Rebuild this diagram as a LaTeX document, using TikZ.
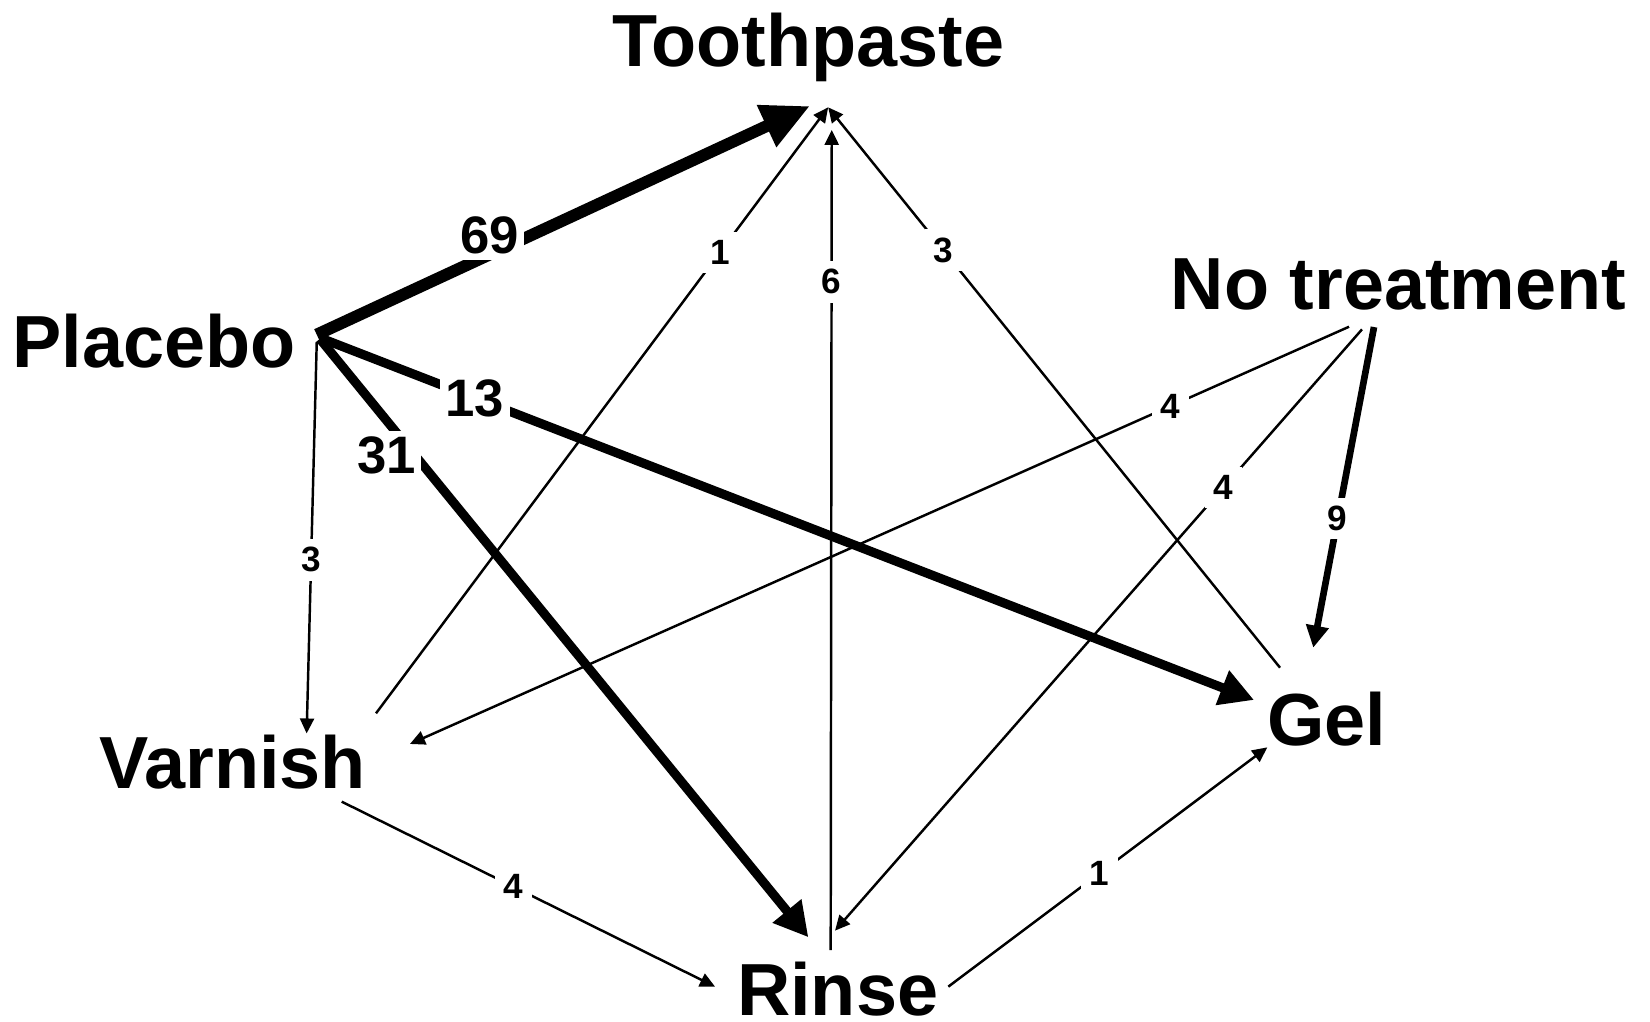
\documentclass[tikz,border=0pt]{standalone}
\usepackage{fontspec}
\setmainfont{Liberation Sans}
\usetikzlibrary{arrows.meta}

\begin{document}
\begin{tikzpicture}[
    x=0.10523mm,
    y=-0.10523mm,
    font=\bfseries,
    treat/.style={
        inner sep=0pt,
        anchor=base,
        font=\fontsize{21}{24}\selectfont\bfseries
    },
    num/.style={
        fill=white,
        inner sep=2.4pt,
        font=\fontsize{10}{12}\selectfont\bfseries
    },
    bignum/.style={
        fill=white,
        inner sep=1.5pt,
        font=\fontsize{15}{18}\selectfont\bfseries
    },
    thinarrow/.style={
        line width=0.7pt,
        -{Triangle[length=1.5mm, width=1.4mm]}
    },
    medarrow/.style={
        line width=1.9pt,
        -{Triangle[length=2.2mm, width=2.2mm]}
    },
    heavyarrow/.style={
        line width=2.6pt,
        -{Triangle[length=3.4mm, width=3.5mm]}
    },
    mainarrow/.style={
        line width=3.4pt,
        -{Triangle[length=4.8mm, width=4.3mm]}
    }
]
\useasboundingbox (0,0) rectangle (1568,971);

% Treatments
\node[treat] (tp)  at (768,63.5)   {Toothpaste};
\node[treat] (pla) at (146.5,349)  {Placebo};
\node[treat] (nt)  at (1329,294.6) {No treatment};
\node[treat] (va)  at (221,749)    {Varnish};
\node[treat] (ge)  at (1261,708)   {Gel};
\node[treat, text depth=0pt] (ri) at (796,965) {Rinse};

% Placebo comparisons
\draw[mainarrow] ([shift={(154.5,-31)}]pla.base) -- ([shift={(1.8,37.2)}]tp.base)
    node[bignum, pos=.35, yshift=1.9mm] {69};
\draw[heavyarrow] ([shift={(157.5,-28)}]pla.base) -- ([shift={(-69.3,-42.8)}]ge.base)
    node[bignum, pos=.166] {13};
\draw[heavyarrow] ([shift={(157.5,-27)}]pla.base) -- ([shift={(-27.8,-74.3)}]ri.base)
    node[bignum, pos=.171, xshift=-1.7mm, yshift=-1.4mm] {31};
\draw[thinarrow] ([shift={(154.5,-24)}]pla.base) -- ([shift={(70.4,-52)}]va.base)
    node[num, pos=.556] {3};

% Arrows into Toothpaste
\draw[thinarrow] ([shift={(136.3,-71.1)}]va.base) -- ([shift={(19,38.5)}]tp.base)
    node[num, pos=.761] {1};
\draw[thinarrow] ([shift={(-6.6,-62.2)}]ri.base) -- ([shift={(22.4,60)}]tp.base)
    node[num, pos=.815] {6};
\draw[thinarrow] ([shift={(-44.6,-73.5)}]ge.base) -- ([shift={(19,38.5)}]tp.base)
    node[num, pos=.745] {3};

% No treatment comparisons
\draw[thinarrow] ([shift={(-47,15.9)}]nt.base) -- ([shift={(168.6,-42)}]va.base)
    node[num, pos=.19] {4};
\draw[thinarrow] ([shift={(-34.7,18.4)}]nt.base) -- ([shift={(-2.5,-80.6)}]ri.base)
    node[num, pos=.263] {4};
\draw[medarrow] ([shift={(-23.3,16.2)}]nt.base) -- ([shift={(-13,-92.5)}]ge.base)
    node[num, pos=.597] {9};

% Varnish, Rinse and Gel
\draw[thinarrow] ([shift={(103.7,12.8)}]va.base) -- ([shift={(-116.5,-27.4)}]ri.base)
    node[num, pos=.46] {4};
\draw[thinarrow] ([shift={(105.2,-27.4)}]ri.base) -- ([shift={(-56.7,2.2)}]ge.base)
    node[num, pos=.474] {1};

\end{tikzpicture}
\end{document}
